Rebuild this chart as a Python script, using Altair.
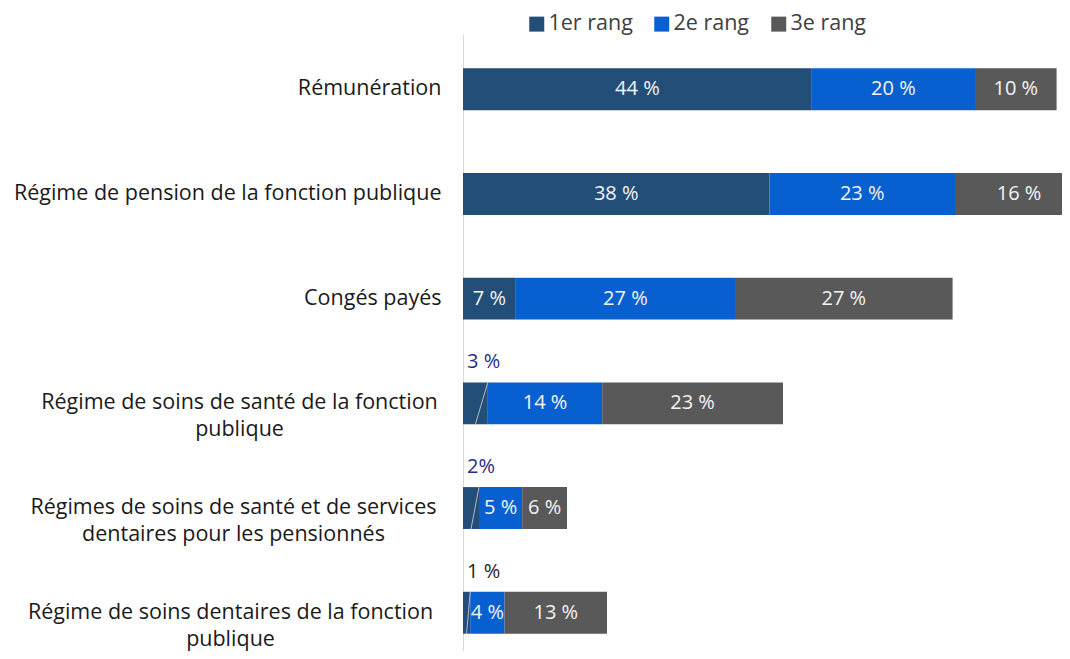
import altair as alt
import pandas as pd

categories = [
    "Rémunération",
    "Régime de pension de la fonction publique",
    "Congés payés",
    "Régime de soins de santé de la fonction\npublique",
    "Régimes de soins de santé et de services\ndentaires pour les pensionnés",
    "Régime de soins dentaires de la fonction\npublique",
]
ranks = ["1er rang", "2e rang", "3e rang"]
rang1 = [43.6, 38.3, 6.6, 3.1, 2.0, 0.9]
rang2 = [20.4, 23.2, 27.4, 14.3, 5.4, 4.3]
rang3 = [10.2, 16.0, 27.2, 22.6, 5.6, 12.8]
labels1 = ["44 %", "38 %", "7 %", "3 %", "2%", "1 %"]
labels2 = ["20 %", "23 %", "27 %", "14 %", "5 %", "4 %"]
labels3 = ["10 %", "16 %", "27 %", "23 %", "6 %", "13 %"]
colors = ["#234e78", "#0860d0", "#595959"]

rows = []
for i, cat in enumerate(categories):
    for j, (vals, labs) in enumerate([(rang1, labels1), (rang2, labels2), (rang3, labels3)]):
        rows.append({"cat": cat, "rank": ranks[j], "order": j, "value": vals[i], "label": labs[i]})
df = pd.DataFrame(rows)

FONT = "Open Sans"

y_axis = alt.Axis(
    title=None,
    ticks=False,
    grid=False,
    domainColor="#d9d9d9",
    domainWidth=1,
    labelFont=FONT,
    labelFontSize=21.5,
    labelColor="#1a1a1a",
    labelLimit=0,
    labelLineHeight=27,
    labelExpr="split(datum.value, '\\n')",
    labelAlign={
        "condition": {"test": "indexof(datum.value, '\\n') >= 0", "value": "center"},
        "value": "right",
    },
    labelPadding={
        "condition": [
            {"test": "indexof(datum.value, 'santé de la') >= 0", "value": 224},
            {"test": "indexof(datum.value, 'pensionn') >= 0", "value": 230},
            {"test": "indexof(datum.value, 'dentaires de') >= 0", "value": 233},
        ],
        "value": 22,
    },
)

y_scale = alt.Scale(range=[0, 634], paddingInner=0.6, paddingOuter=0.328)
x_scale = alt.Scale(domain=[0, 74.875], nice=False, zero=True)


def y_enc(band=0.5):
    return alt.Y("cat:N", sort=categories, scale=y_scale, axis=y_axis, bandPosition=band)


base = alt.Chart(df).transform_stack(
    stack="value",
    groupby=["cat"],
    sort=[alt.SortField("order", order="ascending")],
    as_=["start", "end"],
).transform_calculate(mid="(datum.start + datum.end) / 2")

bars = base.mark_bar(clip=True).encode(
    x=alt.X("start:Q", scale=x_scale, axis=None),
    x2="end:Q",
    y=alt.Y("cat:N", sort=categories, scale=y_scale, axis=y_axis),
    color=alt.Color(
        "rank:N",
        scale=alt.Scale(domain=ranks, range=colors),
        legend=alt.Legend(
            title=None,
            orient="none",
            legendX=63,
            legendY=-21,
            direction="horizontal",
            symbolType="square",
            symbolSize=225,
            symbolStrokeWidth=0,
            labelFont=FONT,
            labelFontSize=21.5,
            labelColor="#404040",
            columnPadding=18,
            labelOffset=1,
            padding=0,
        ),
    ),
)

inside = base.transform_filter("datum.value >= 3.5").mark_text(
    font=FONT, fontSize=20, color="#f4f4f4", align="center", baseline="middle"
).encode(
    x=alt.X("mid:Q", scale=x_scale, axis=None),
    y=y_enc(),
    text="label:N",
)

leaders = base.transform_filter("datum.value < 3.5").mark_rule(
    color="#b8b8b8", strokeWidth=1
).encode(
    x=alt.X("mid:Q", scale=x_scale, axis=None),
    x2="end:Q",
    y=y_enc(1),
    y2=alt.Y2("cat:N", bandPosition=0),
)

outside = base.transform_filter("datum.value < 3.5").mark_text(
    font=FONT, fontSize=20, align="left", baseline="alphabetic", dx=4, dy=-14
).encode(
    x=alt.X("start:Q", scale=x_scale, axis=None),
    y=y_enc(0),
    text="label:N",
    color=alt.condition("datum.value < 1.5", alt.value("#262626"), alt.value("#2b2a8a")),
)

chart = alt.layer(bars, leaders, inside, outside).properties(
    width=599,
    height=617,
    autosize=alt.AutoSizeParams(type="none"),
    padding={"left": 455, "top": 26, "right": 0, "bottom": 0},
).configure(font=FONT).configure_view(strokeWidth=0)

chart.save("out.html", embed_options={"renderer": "svg", "actions": False})
